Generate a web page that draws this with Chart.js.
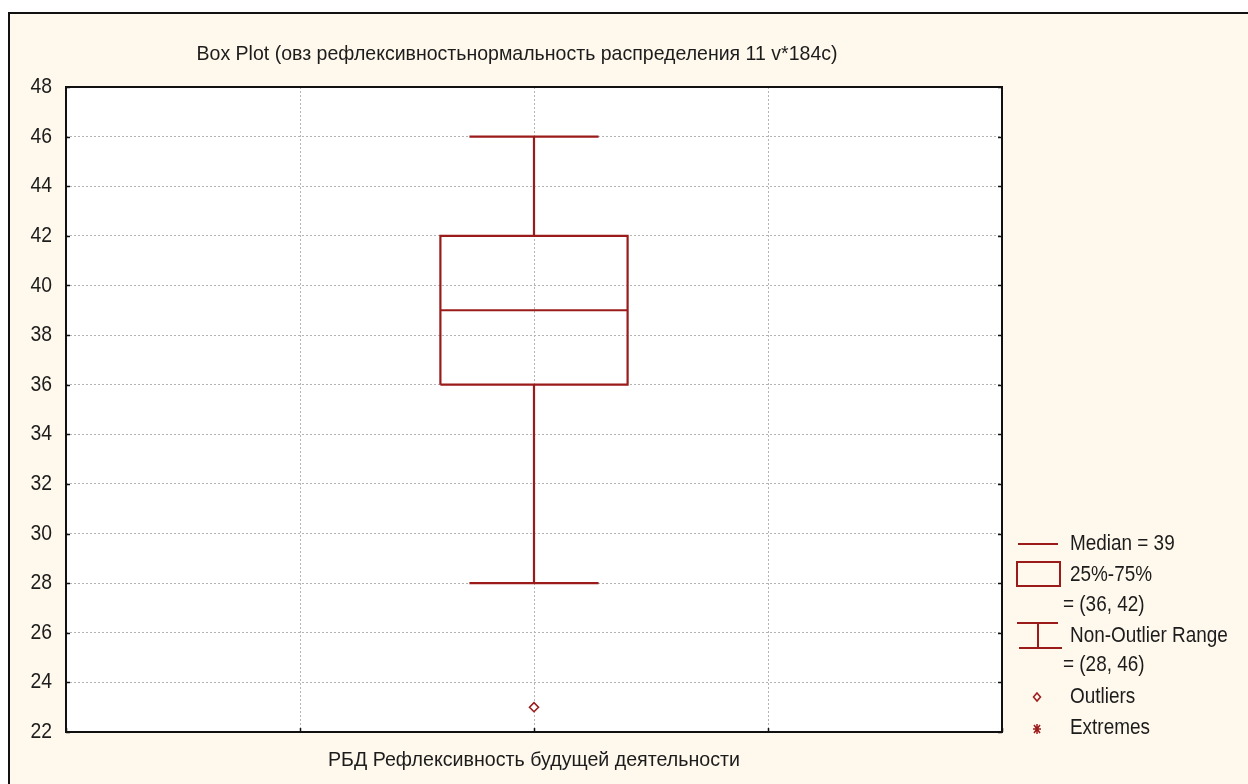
<!DOCTYPE html>
<html>
<head>
<meta charset="utf-8">
<script src="https://cdn.jsdelivr.net/npm/chart.js@4.4.1/dist/chart.umd.min.js"></script>
<style>
  html, body { margin: 0; padding: 0; background: #fff; overflow: hidden; width: 1248px; height: 784px; }
  #frame { position: absolute; left: 8px; top: 12px; width: 1300px; height: 900px; border: 2px solid #111; background: #FFF8EC; }
  #boxChart { position: absolute; left: 0; top: 0; }
</style>
</head>
<body>
<div id="frame"></div>
<canvas id="boxChart" width="1248" height="784"></canvas>
<script>
// values
const categories = ['РБД Рефлексивность будущей деятельности'];
const lowerWhisker = [28];
const q1 = [36];
const median = [39];
const q3 = [42];
const upperWhisker = [46];
const outliers = [[23]];
const extremes = [[]];
const yTicks = [22, 24, 26, 28, 30, 32, 34, 36, 38, 40, 42, 44, 46, 48];

const chartTitle = 'Box Plot (овз рефлексивностьнормальность распределения 11 v*184c)';

const RED = '#9B1B1B';
const BOX_HALF = 0.2;   // box half width, in x-axis units
const CAP_HALF = 0.138; // whisker cap half width
const GAP = { x: NaN, y: NaN };

// build the segments for every category (category i sits at x = i + 1)
let boxPts = [], medPts = [], whiskPts = [], outPts = [], extPts = [];
categories.forEach((c, i) => {
  const p = i + 1;
  boxPts.push({x: p - BOX_HALF, y: q1[i]}, {x: p + BOX_HALF, y: q1[i]},
              {x: p + BOX_HALF, y: q3[i]}, {x: p - BOX_HALF, y: q3[i]},
              {x: p - BOX_HALF, y: q1[i]}, GAP);
  medPts.push({x: p - BOX_HALF, y: median[i]}, {x: p + BOX_HALF, y: median[i]}, GAP);
  whiskPts.push({x: p, y: q3[i]}, {x: p, y: upperWhisker[i]}, GAP,
                {x: p - CAP_HALF, y: upperWhisker[i]}, {x: p + CAP_HALF, y: upperWhisker[i]}, GAP,
                {x: p, y: q1[i]}, {x: p, y: lowerWhisker[i]}, GAP,
                {x: p - CAP_HALF, y: lowerWhisker[i]}, {x: p + CAP_HALF, y: lowerWhisker[i]}, GAP);
  outliers[i].forEach(v => outPts.push({x: p, y: v}));
  extremes[i].forEach(v => extPts.push({x: p, y: v}));
});

const lineSet = (data) => ({
  data: data, showLine: true, spanGaps: false, borderColor: RED, borderWidth: 2.2,
  pointRadius: 0, fill: false, tension: 0
});

// text helper: condensed look by horizontal scaling
function txt(ctx, s, x, y, size, sx, align, fitWidth) {
  ctx.save();
  ctx.font = size + 'px "Liberation Sans", Arial, sans-serif';
  ctx.fillStyle = '#1c1c1c';
  ctx.textBaseline = 'middle';
  const w = ctx.measureText(s).width;
  if (fitWidth) sx = fitWidth / w;
  let left = x;
  if (align === 'center') left = x - w * sx / 2;
  else if (align === 'right') left = x - w * sx;
  ctx.translate(left, y);
  ctx.scale(sx, 1);
  ctx.textAlign = 'left';
  ctx.fillText(s, 0, 0);
  ctx.restore();
}

const framePlugin = {
  id: 'statFrame',
  beforeDraw(chart) {
    const {ctx, chartArea: a} = chart;
    ctx.save();
    ctx.fillStyle = '#fff';
    ctx.fillRect(a.left, a.top, a.right - a.left, a.bottom - a.top);
    ctx.restore();
  },
  afterDraw(chart) {
    const {ctx, chartArea: a, scales} = chart;
    ctx.save();
    ctx.strokeStyle = '#111';
    ctx.lineWidth = 2;
    ctx.strokeRect(a.left, a.top, a.right - a.left, a.bottom - a.top);
    // inner tick marks
    ctx.lineWidth = 1.5;
    ctx.beginPath();
    scales.y.ticks.forEach(t => {
      const py = Math.round(scales.y.getPixelForValue(t.value)) + 0.5;
      ctx.moveTo(a.left, py); ctx.lineTo(a.left + 4, py);
      ctx.moveTo(a.right, py); ctx.lineTo(a.right - 4, py);
    });
    scales.x.ticks.forEach(t => {
      const px = Math.round(scales.x.getPixelForValue(t.value)) + 0.5;
      ctx.moveTo(px, a.bottom); ctx.lineTo(px, a.bottom - 4);
    });
    ctx.stroke();
    ctx.restore();

    // y tick labels
    scales.y.ticks.forEach(t => {
      txt(ctx, String(t.value), 52, scales.y.getPixelForValue(t.value), 22, 0.88, 'right');
    });
    // title and x-axis title
    txt(ctx, chartTitle, 517, 54, 21, 1, 'center', 641);
    categories.forEach((c, i) => {
      txt(ctx, c, scales.x.getPixelForValue(i + 1), 760, 21, 1, 'center', 412);
    });

    // legend
    const i = 0;
    ctx.save();
    ctx.strokeStyle = RED;
    ctx.lineWidth = 2;
    ctx.beginPath();
    ctx.moveTo(1018, 544); ctx.lineTo(1058, 544);
    ctx.stroke();
    ctx.strokeRect(1017, 562, 43, 24);
    ctx.beginPath();
    ctx.moveTo(1017, 623); ctx.lineTo(1058, 623);
    ctx.moveTo(1038, 623); ctx.lineTo(1038, 648);
    ctx.moveTo(1019, 648); ctx.lineTo(1062, 648);
    ctx.stroke();
    ctx.lineWidth = 1.5;
    ctx.beginPath();
    ctx.moveTo(1037, 693); ctx.lineTo(1040.5, 697); ctx.lineTo(1037, 701); ctx.lineTo(1033.5, 697); ctx.closePath();
    ctx.stroke();
    ctx.beginPath();
    ctx.moveTo(1033, 729); ctx.lineTo(1041, 729);
    ctx.moveTo(1037, 724); ctx.lineTo(1037, 734);
    ctx.moveTo(1034, 725); ctx.lineTo(1040, 733);
    ctx.moveTo(1040, 725); ctx.lineTo(1034, 733);
    ctx.stroke();
    ctx.restore();

    const ls = 0.86;
    txt(ctx, 'Median = ' + median[i], 1070, 544, 22, ls, 'left');
    txt(ctx, '25%-75%', 1070, 575, 22, ls, 'left');
    txt(ctx, '= (' + q1[i] + ', ' + q3[i] + ')', 1063, 605, 22, ls, 'left');
    txt(ctx, 'Non-Outlier Range', 1070, 636, 22, ls, 'left');
    txt(ctx, '= (' + lowerWhisker[i] + ', ' + upperWhisker[i] + ')', 1063, 665, 22, ls, 'left');
    txt(ctx, 'Outliers', 1070, 697, 22, ls, 'left');
    txt(ctx, 'Extremes', 1070, 728, 22, ls, 'left');
  }
};

const ctx = document.getElementById('boxChart');

new Chart(ctx, {
  type: 'scatter',
  data: {
    datasets: [
      lineSet(whiskPts),
      lineSet(boxPts),
      lineSet(medPts),
      {
        data: outPts, showLine: false, pointStyle: 'rectRot', pointRadius: 4.5,
        pointBorderWidth: 1.6, pointBorderColor: RED, pointBackgroundColor: '#fff'
      },
      {
        data: extPts, showLine: false, pointStyle: 'star', pointRadius: 5,
        pointBorderWidth: 1.5, pointBorderColor: RED
      }
    ]
  },
  options: {
    responsive: false,
    animation: false,
    events: [],
    layout: { padding: { left: 66, top: 87, right: 246, bottom: 52 } },
    plugins: {
      legend: { display: false },
      tooltip: { enabled: false },
      title: { display: false }
    },
    scales: {
      x: {
        type: 'linear',
        min: 0,
        max: categories.length + 1,
        ticks: { display: false, stepSize: 0.5 },
        grid: { color: '#b4b4b4', lineWidth: 1, drawTicks: false },
        border: { display: false, dash: [2, 2] }
      },
      y: {
        min: yTicks[0],
        max: yTicks[yTicks.length - 1],
        afterBuildTicks: (s) => { s.ticks = yTicks.map(v => ({ value: v })); },
        ticks: { display: false },
        grid: { color: '#b4b4b4', lineWidth: 1, drawTicks: false },
        border: { display: false, dash: [2, 2] }
      }
    }
  },
  plugins: [framePlugin]
});
</script>
</body>
</html>
